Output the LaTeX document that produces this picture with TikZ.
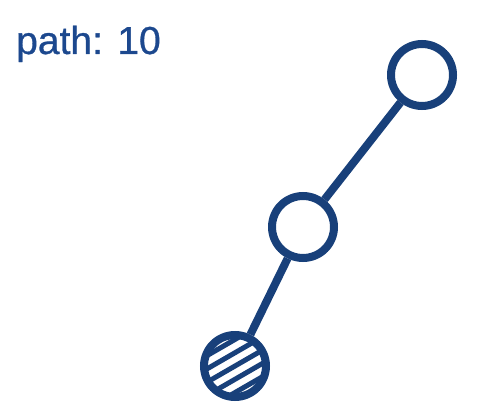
\documentclass[tikz,border=0pt]{standalone}
\usepackage{fontspec}
\setmainfont{Liberation Sans}
\newfontfamily\lblfont[FakeBold=0.8]{Liberation Sans}
\definecolor{navy}{RGB}{24,64,122}
\definecolor{txtblue}{RGB}{28,72,142}
\tikzset{
  vert/.style={circle, draw=navy, line width=8pt, minimum size=62pt, inner sep=0pt, fill=white},
  link/.style={draw=navy, line width=8pt},
  hatchline/.style={draw=navy, line width=5pt},
  hatched/.style={path picture={
      \foreach \k in {-3,...,3}
        \draw[hatchline] (path picture bounding box.center) ++(120:\k*11.5pt) ++(30:-45pt) -- ++(30:90pt);
    }},
  lbl/.style={text=txtblue, font=\lblfont\fontsize{39}{41}\selectfont, inner sep=0pt, anchor=base west}
}
\begin{document}
\begin{tikzpicture}[x=1pt,y=1pt]
\useasboundingbox (0,0) rectangle (486,405);
\node[lbl] (title) at (16,351) {path: 10};
\node[vert] (top) at (422,330) {};
\node[vert] (mid) at (303,178) {};
\node[vert, hatched] (bot) at (235,39) {};
\draw[link] (top) -- (mid);
\draw[link] (mid) -- (bot);
\end{tikzpicture}
\end{document}
